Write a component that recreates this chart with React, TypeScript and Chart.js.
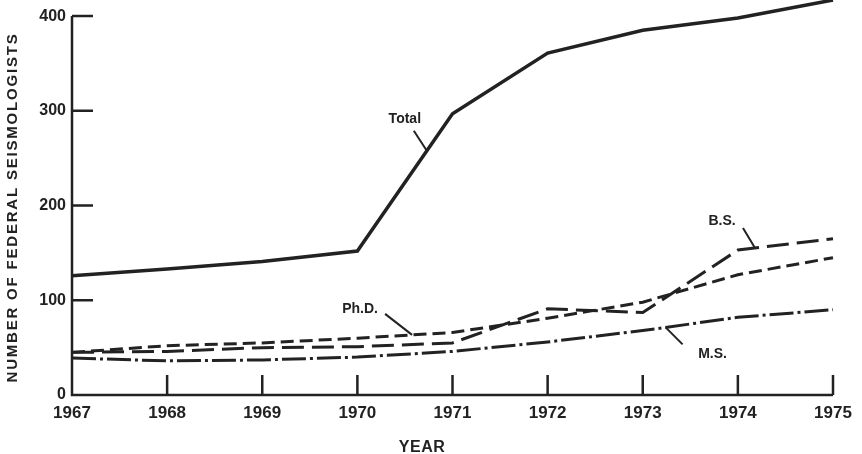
import { useEffect, useRef } from 'react';
import { Chart, registerables } from 'chart.js';

Chart.register(...registerables);

// Federal seismologists by degree, 1967-1975
const years = ['1967', '1968', '1969', '1970', '1971', '1972', '1973', '1974', '1975'];
const total = [126, 133, 141, 152, 297, 361, 385, 398, 417];
const bs = [45, 46, 50, 51, 55, 91, 87, 153, 165];
const phd = [45, 52, 55, 60, 66, 81, 98, 127, 145];
const ms = [39, 36, 37, 40, 46, 56, 68, 82, 90];
const yTickValues = [0, 100, 200, 300, 400];

const INK = '#222222';
const FONT = '"Liberation Sans", Arial, Helvetica, sans-serif';

// Series callouts: anchor index on the line, leader start offset, text centre offset
const callouts = [
  { text: 'Total', series: total, at: 3.73, lead: [-13, -20], label: [-22, -32] },
  { text: 'Ph.D.', series: phd, at: 3.575, lead: [-27, -21], label: [-52, -26] },
  { text: 'B.S.', series: bs, at: 7.18, lead: [-12, -20], label: [-33, -27] },
  { text: 'M.S.', series: ms, at: 6.24, lead: [17, 17], label: [47, 27] },
];

function valueAt(series: number[], idx: number) {
  const i = Math.min(Math.floor(idx), series.length - 2);
  const t = idx - i;
  return series[i] + (series[i + 1] - series[i]) * t;
}

const framePlugin = {
  id: 'frame',
  beforeDatasetsDraw(chart: any) {
    const { ctx, chartArea, scales } = chart;
    const x = scales.x;
    const y = scales.y;
    const x0 = chartArea.left;
    const yb = y.getPixelForValue(0);
    ctx.save();
    ctx.strokeStyle = INK;
    ctx.lineWidth = 2.5;
    ctx.beginPath();
    ctx.moveTo(x0, y.getPixelForValue(yTickValues[yTickValues.length - 1]));
    ctx.lineTo(x0, yb);
    ctx.lineTo(x.getPixelForValue(years.length - 1), yb);
    ctx.stroke();
    ctx.beginPath();
    yTickValues.slice(1).forEach((v) => {
      const py = y.getPixelForValue(v);
      ctx.moveTo(x0, py);
      ctx.lineTo(x0 + 21, py);
    });
    years.slice(1).forEach((_, i) => {
      const px = x.getPixelForValue(i + 1);
      ctx.moveTo(px, yb);
      ctx.lineTo(px, yb - 20);
    });
    ctx.stroke();
    ctx.restore();
  },
  afterDatasetsDraw(chart: any) {
    const { ctx, chartArea, scales } = chart;
    const x = scales.x;
    const y = scales.y;
    ctx.save();
    ctx.fillStyle = INK;
    ctx.strokeStyle = INK;
    ctx.lineWidth = 2;

    // callouts
    ctx.font = `bold 14px ${FONT}`;
    ctx.textAlign = 'center';
    ctx.textBaseline = 'middle';
    callouts.forEach((c) => {
      const ax = x.getPixelForValue(c.at);
      const ay = y.getPixelForValue(valueAt(c.series, c.at));
      ctx.beginPath();
      ctx.moveTo(ax + c.lead[0], ay + c.lead[1]);
      ctx.lineTo(ax, ay);
      ctx.stroke();
      ctx.fillText(c.text, ax + c.label[0], ay + c.label[1]);
    });

    // axis titles
    ctx.font = `bold 15px ${FONT}`;
    ctx.textBaseline = 'alphabetic';
    (ctx as any).letterSpacing = '1.8px';
    ctx.save();
    ctx.translate(17, (chartArea.top + chartArea.bottom) / 2 + 10);
    ctx.rotate(-Math.PI / 2);
    ctx.fillText('NUMBER OF FEDERAL SEISMOLOGISTS', 0, 0);
    ctx.restore();
    (ctx as any).letterSpacing = '0.5px';
    ctx.font = `bold 16px ${FONT}`;
    ctx.fillText('YEAR', chartArea.left + (chartArea.right - chartArea.left) * 0.46, 452);
    ctx.restore();
  },
};

function line(label: string, data: number[], dash: number[], width = 3) {
  return {
    label,
    data,
    borderColor: INK,
    borderWidth: width,
    borderDash: dash,
    pointRadius: 0,
    tension: 0,
    fill: false,
    clip: false as any,
  };
}

export default function App() {
  const ref = useRef<HTMLCanvasElement>(null);

  useEffect(() => {
    if (!ref.current) return;
    const chart = new Chart(ref.current, {
      type: 'line',
      data: {
        labels: years,
        datasets: [
          line('Total', total, [], 3.5),
          line('B.S.', bs, [22, 8]),
          line('Ph.D.', phd, [13, 6]),
          line('M.S.', ms, [24, 4, 3, 4]),
        ],
      },
      options: {
        responsive: false,
        animation: false,
        layout: { padding: { left: 0, right: 29, top: 0, bottom: 0 } },
        plugins: {
          legend: { display: false },
          tooltip: { enabled: false },
        },
        scales: {
          x: {
            type: 'category',
            offset: false,
            grid: { display: false, drawTicks: false },
            border: { display: false },
            ticks: {
              color: INK,
              font: { family: FONT, size: 17, weight: 'bold' },
              padding: 8,
              maxRotation: 0,
              autoSkip: false,
            },
            afterFit(scale: any) {
              scale.height = 59;
              scale.paddingLeft = 0;
              scale.paddingRight = 0;
            },
          },
          y: {
            min: 0,
            max: 417,
            grid: { display: false, drawTicks: false },
            border: { display: false },
            ticks: {
              color: INK,
              font: { family: FONT, size: 16, weight: 'bold' },
              padding: 6,
            },
            afterBuildTicks(scale: any) {
              scale.ticks = yTickValues.map((v) => ({ value: v }));
            },
            afterFit(scale: any) {
              scale.width = 72;
              scale.paddingTop = 0;
              scale.paddingBottom = 0;
            },
          },
        },
      },
      plugins: [framePlugin],
    });
    return () => chart.destroy();
  }, []);

  return (
    <div style={{ position: 'fixed', left: 0, top: 0, width: 862, height: 454, background: '#fff' }}>
      <canvas ref={ref} width={862} height={454} />
    </div>
  );
}
